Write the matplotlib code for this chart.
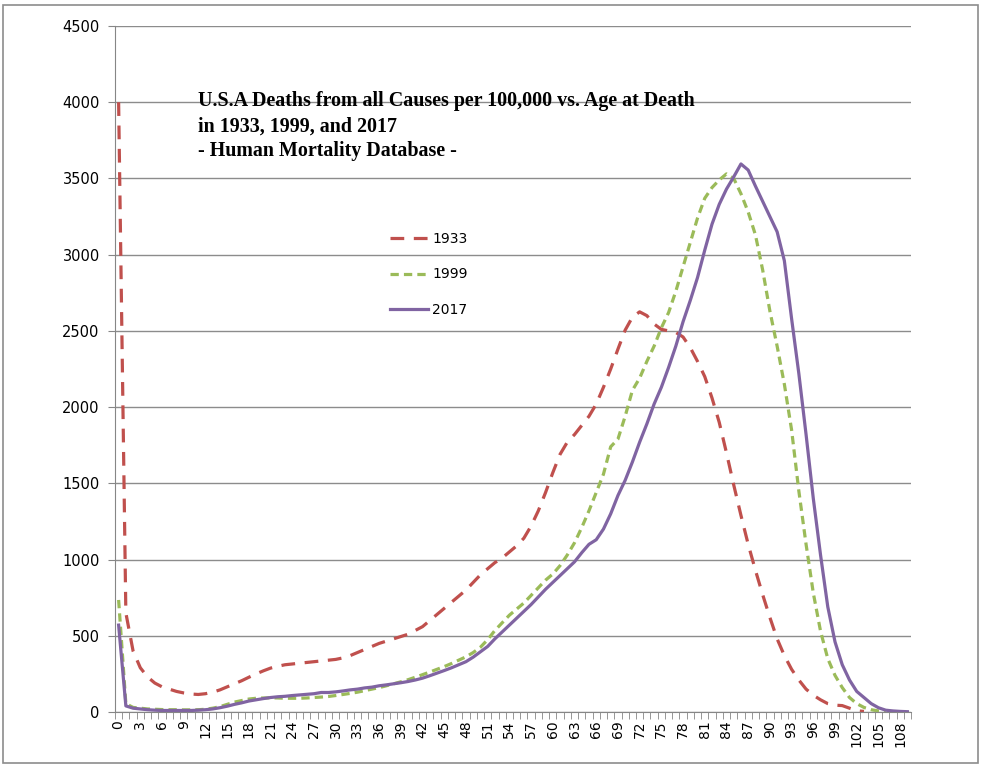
import numpy as np
import matplotlib
matplotlib.use('Agg')
from matplotlib import pyplot as plt
from matplotlib.patches import Rectangle

# deaths per 100,000 (life table d(x)) by single year of age
d1933 = [4000, 650, 400, 290, 230, 190, 165, 150, 135, 125,
         118, 115, 120, 130, 145, 165, 185, 205, 228, 250,
         270, 288, 300, 310, 315, 320, 325, 330, 335, 340,
         345, 355, 370, 390, 410, 430, 450, 465, 480, 495,
         510, 535, 560, 600, 640, 680, 720, 760, 800, 850,
         900, 940, 980, 1010, 1050, 1090, 1140, 1220, 1320, 1440,
         1570, 1690, 1770, 1820, 1880, 1940, 2020, 2130, 2250, 2380,
         2505, 2590, 2625, 2600, 2545, 2510, 2500, 2490, 2460, 2390,
         2300, 2200, 2060, 1900, 1700, 1490, 1290, 1100, 930, 770,
         620, 480, 370, 280, 210, 150, 110, 80, 55, 45,
         42, 25, 8, 4]
d1999 = [735, 55, 30, 25, 20, 18, 16, 15, 15, 14,
         14, 15, 18, 25, 35, 50, 65, 75, 85, 90,
         92, 93, 92, 90, 90, 90, 92, 95, 98, 102,
         108, 115, 122, 130, 140, 150, 160, 172, 185, 198,
         212, 228, 245, 262, 280, 298, 318, 340, 362, 390,
         425, 475, 535, 585, 635, 675, 715, 765, 815, 865,
         905, 960, 1030, 1110, 1210, 1320, 1440, 1560, 1740, 1790,
         1940, 2110, 2190, 2300, 2400, 2520, 2620, 2760, 2920, 3080,
         3240, 3370, 3440, 3490, 3530, 3500, 3400, 3280, 3130, 2900,
         2630, 2400, 2150, 1850, 1450, 1100, 780, 530, 350, 240,
         160, 95, 55, 30, 15, 7, 3]
d2017 = [570, 40, 25, 20, 15, 12, 10, 10, 10, 10,
         10, 12, 15, 20, 28, 38, 50, 60, 72, 80,
         88, 95, 100, 103, 108, 112, 116, 120, 128, 128,
         132, 138, 145, 150, 158, 163, 172, 178, 185, 192,
         200, 210, 222, 238, 255, 272, 290, 310, 330, 360,
         395, 430, 480, 525, 570, 615, 660, 705, 755, 805,
         850, 895, 940, 985, 1045, 1100, 1130, 1200, 1300, 1420,
         1520, 1640, 1770, 1890, 2020, 2130, 2260, 2400, 2560, 2700,
         2850, 3030, 3200, 3330, 3430, 3510, 3595, 3555, 3450, 3350,
         3250, 3150, 2960, 2580, 2220, 1820, 1400, 1030, 690, 460,
         310, 210, 135, 95, 55, 28, 12, 7, 4, 2]
n_ages = 110

fig = plt.figure(figsize=(9.81, 7.67), dpi=100)
ax = fig.add_axes([115/981, 1-712/767, 796/981, 686/767])

ax.plot(range(len(d1933)), d1933, color='#C0504D', lw=2.3, dashes=(4.3, 3.0), label='1933')
ax.plot(range(len(d1999)), d1999, color='#9BBB59', lw=2.3, dashes=(2.6, 1.6), label='1999')
ax.plot(range(len(d2017)), d2017, color='#8064A2', lw=2.3, label='2017')

ax.set_xlim(-0.5, n_ages - 0.5)
ax.set_ylim(0, 4500)
ax.set_yticks(range(0, 4501, 500))
ax.yaxis.grid(True, color='#8C8C8C', lw=1.0)
ax.set_axisbelow(True)

ax.set_xticks(range(0, n_ages, 3))
ax.set_xticklabels([str(a) for a in range(0, n_ages, 3)], rotation=90)
ax.set_xticks(np.arange(-0.5, n_ages, 1), minor=True)
ax.tick_params(axis='x', which='major', length=0, pad=6, labelsize=10)
ax.tick_params(axis='x', which='minor', length=5, color='#868686')
ax.tick_params(axis='y', length=5, color='#868686', labelsize=10.5, pad=6)

for s in ['top', 'right']:
    ax.spines[s].set_visible(False)
for s in ['left', 'bottom']:
    ax.spines[s].set_color('#868686')

ax.legend(loc='upper left', bbox_to_anchor=((383-115)/796, (712-225)/686),
          frameon=False, handlelength=2.75, handletextpad=0.3,
          labelspacing=1.55, borderpad=0, fontsize=10)

fig.text(198/981, 1-91/767,
         'U.S.A Deaths from all Causes per 100,000 vs. Age at Death\n'
         'in 1933, 1999, and 2017\n'
         '- Human Mortality Database -',
         family='Liberation Serif', weight='bold', fontsize=14.4,
         va='top', ha='left', linespacing=1.34)

fig.patches.append(Rectangle((3/981, 1-763/767), 975/981, 758/767,
                             transform=fig.transFigure, fill=False,
                             ec='#8C8C8C', lw=1.2))

fig.savefig('out.png', dpi=100)
